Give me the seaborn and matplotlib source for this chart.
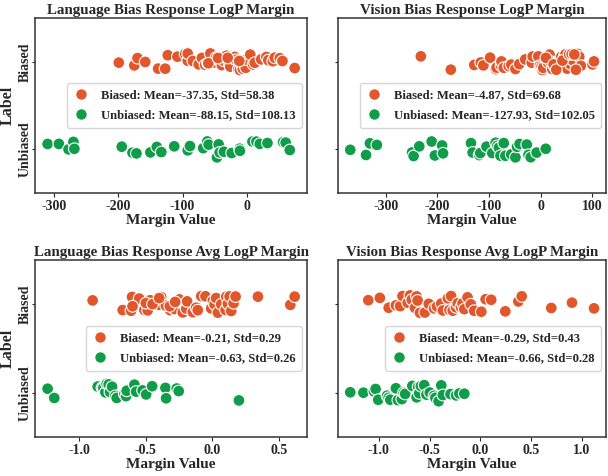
import numpy as np
import pandas as pd
import seaborn as sns
import matplotlib.pyplot as plt
from matplotlib.lines import Line2D

# DATI
lang_logp_biased = [-199, -175, -170, -158, -138, -127, -123, -108, -96, -92, -92, -84, -75, -70,
                    -65, -61, -57, -53, -48, -43.5, -41, -39, -36, -32, -28, -26, -22, -19, -16.5,
                    -13.5, -11, -8, -6.5, -2, -1, 5, 9.5, 12, 22, 30, 33, 40, 43, 51, 55, 74,
                    -60, -45, -30, -12]
lang_logp_unbiased = [-309.5, -292, -277, -269.5, -268, -194.4, -177.8, -171.6, -150, -150, -140,
                      -133, -113, -92, -88.6, -68, -61.6, -59.6, -46.7, -44, -42.5, -35.8, -23.8,
                      -11.4, -11, 8.4, 14.6, 19.8, 31.7, 56, 60, 66.4]
vis_logp_biased = [-232, -174, -128.6, -116, -111, -98, -87, -85.5, -76.6, -76, -71.5, -62, -57,
                   -49, -41.7, -30, -17.5, -15.6, -4.8, -1.6, 1.5, 3.4, 4.7, 14, 17, 19, 22.5, 27,
                   33, 36.5, 39.6, 46, 47.8, 51, 57.4, 58.7, 62, 71.4, 74.5, 77.7, 100, 103,
                   10, 25, 30, 42, 55, 60, 65, 68]
vis_logp_unbiased = [-368.6, -338, -330.5, -317, -249, -246, -235, -211, -204.8, -190.9, -189,
                     -135, -131.8, -119, -117, -105, -93.7, -87.4, -84, -81, -78, -71.5, -68.4,
                     -57, -49, -46, -41, -27, -23.8, -19.4, -8, 9.7]
lang_avg_biased = [-0.90, -0.674, -0.611, -0.604, -0.536, -0.511, -0.486, -0.473, -0.468, -0.418,
                   -0.398, -0.385, -0.318, -0.31, -0.285, -0.248, -0.223, -0.197, -0.19, -0.147,
                   -0.122, -0.11, -0.084, -0.052, -0.009, 0.003, 0.016, 0.028, 0.041, 0.066,
                   0.099, 0.104, 0.116, 0.129, 0.141, 0.159, 0.174, 0.342, 0.585, 0.618,
                   -0.55, -0.5, -0.45, -0.35, -0.32, -0.28, -0.6, -0.4]
lang_avg_unbiased = [-1.238, -1.188, -0.862, -0.829, -0.819, -0.804, -0.794, -0.779, -0.769,
                     -0.754, -0.729, -0.719, -0.661, -0.649, -0.644, -0.586, -0.573, -0.524,
                     -0.498, -0.453, -0.353, -0.348, -0.268, -0.253, 0.199]
vis_avg_biased = [-1.104, -0.99, -0.903, -0.832, -0.79, -0.767, -0.716, -0.693, -0.676, -0.644,
                  -0.628, -0.618, -0.595, -0.547, -0.508, -0.456, -0.427, -0.385, -0.369, -0.32,
                  -0.304, -0.288, -0.272, -0.24, -0.223, -0.191, -0.175, -0.158, -0.126, -0.094,
                  -0.061, 0.01, 0.052, 0.107, 0.246, 0.375, 0.408, 0.699, 0.903, 1.12]
vis_avg_unbiased = [-1.282, -1.152, -1.049, -1.032, -1.006, -0.919, -0.903, -0.887, -0.832,
                    -0.812, -0.773, -0.757, -0.741, -0.67, -0.628, -0.612, -0.602, -0.586,
                    -0.553, -0.531, -0.498, -0.456, -0.443, -0.411, -0.385, -0.369, -0.294,
                    -0.239, -0.207, -0.158]

titles = ["Language Bias Response LogP Margin", "Vision Bias Response LogP Margin",
          "Language Bias Response Avg LogP Margin", "Vision Bias Response Avg LogP Margin"]
legend_labels = [
    ["Biased: Mean=-37.35, Std=58.38", "Unbiased: Mean=-88.15, Std=108.13"],
    ["Biased: Mean=-4.87, Std=69.68", "Unbiased: Mean=-127.93, Std=102.05"],
    ["Biased: Mean=-0.21, Std=0.29", "Unbiased: Mean=-0.63, Std=0.26"],
    ["Biased: Mean=-0.29, Std=0.43", "Unbiased: Mean=-0.66, Std=0.28"],
]
series = [(lang_logp_biased, lang_logp_unbiased), (vis_logp_biased, vis_logp_unbiased),
          (lang_avg_biased, lang_avg_unbiased), (vis_avg_biased, vis_avg_unbiased)]

colors = {"Biased": "#e2562b", "Unbiased": "#0f9d49"}

# STILE
sns.set_style("ticks")
plt.rcParams['font.family'] = ['Liberation Serif', 'DejaVu Serif']
plt.rcParams['font.weight'] = 'bold'
plt.rcParams['axes.labelweight'] = 'bold'
plt.rcParams['axes.titleweight'] = 'bold'
plt.rcParams['axes.unicode_minus'] = False

np.random.seed(3)
fig = plt.figure(figsize=(6.08, 4.76), dpi=100)
positions = [[0.058, 0.595, 0.447, 0.367], [0.556, 0.595, 0.441, 0.367],
             [0.058, 0.082, 0.447, 0.372], [0.556, 0.082, 0.441, 0.372]]

for i in range(4):
    ax = fig.add_axes(positions[i])
    b, u = series[i]
    df = pd.DataFrame({
        "Margin": list(b) + list(u),
        "Label": ["Biased"] * len(b) + ["Unbiased"] * len(u),
    })
    sns.stripplot(data=df, x="Margin", y="Label", hue="Label", palette=colors,
                  order=["Biased", "Unbiased"], jitter=0.1, size=8.5,
                  edgecolor="white", linewidth=0.8, legend=False, ax=ax)
    ax.set_title(titles[i], fontsize=10.8, fontweight='bold', pad=3)
    ax.set_xlabel("Margin Value", fontsize=11, fontweight='bold', labelpad=1)
    ax.tick_params(axis='x', labelsize=10, length=3, pad=2)
    ax.tick_params(axis='y', labelsize=10, length=2.5, pad=0)
    for lbl in ax.get_xticklabels():
        lbl.set_fontweight('bold')
    if i % 2 == 0:
        ax.set_ylabel("Label", fontsize=11.5, fontweight='bold', labelpad=2)
        ax.set_yticks([0, 1])
        ax.set_yticklabels(["Biased", "Unbiased"], rotation=90, va='center',
                           fontweight='bold')
    else:
        ax.set_ylabel("")
        ax.set_yticks([0, 1])
        ax.set_yticklabels(["", ""])
    for s in ax.spines.values():
        s.set_color("#333333")
        s.set_linewidth(1.1)
    handles = [Line2D([], [], marker='o', linestyle='', markersize=8.5,
                      markerfacecolor=colors[k], markeredgecolor='white')
               for k in ["Biased", "Unbiased"]]
    ax.legend(handles, legend_labels[i], loc='center right',
              prop={'family': 'Liberation Serif', 'weight': 'bold', 'size': 9.1},
              handlelength=1.2, handletextpad=1.0, borderpad=0.5, labelspacing=0.6,
              borderaxespad=0.4)

plt.savefig("out.png", dpi=100)
